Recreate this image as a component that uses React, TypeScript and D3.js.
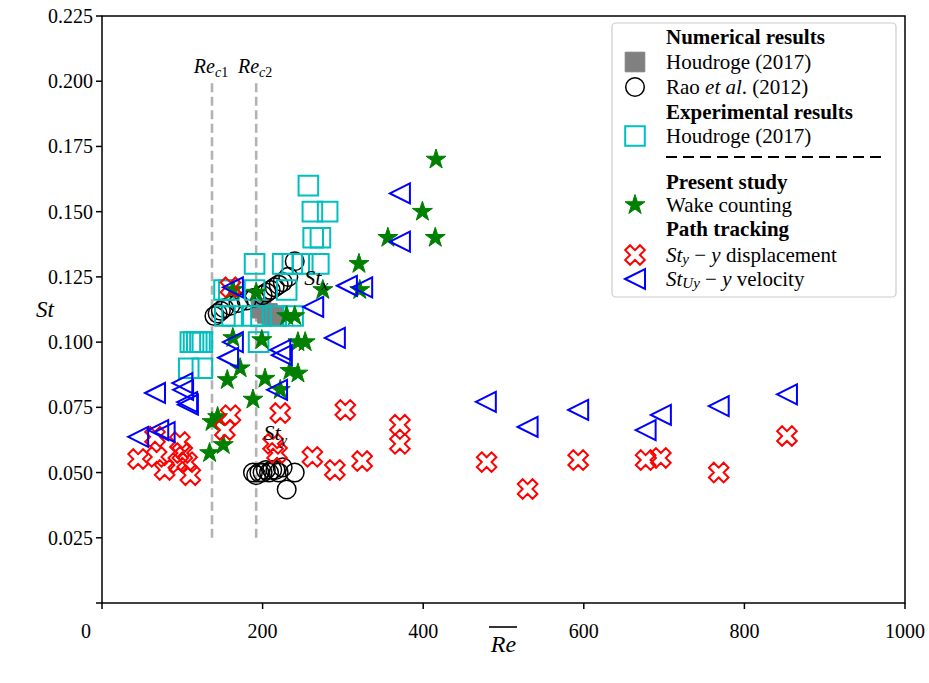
import React from "react";
import * as d3 from "d3";

const W = 929;
const H = 683;
const FONT = '"Liberation Serif", "DejaVu Serif", serif';

// Axis ticks
const xTicks = [0, 200, 400, 600, 800, 1000];
const xTickLabels = ["", "200", "400", "600", "800", "1000"];
const yTicks = [0, 0.025, 0.05, 0.075, 0.1, 0.125, 0.15, 0.175, 0.2, 0.225];
const yTickLabels = ["", "0.025", "0.050", "0.075", "0.100", "0.125", "0.150", "0.175", "0.200", "0.225"];

// Critical Reynolds numbers
const reCritical = [137, 192];
const reCriticalSubs = ["c1", "c2"];
const reCriticalSpan = [0.025, 0.2];

// Numerical results, Houdroge (2017)
const numHoudrogeRe = [198, 206, 214];
const numHoudrogeSt = [0.113, 0.111, 0.11];

// Numerical results, Rao et al. (2012) – upper branch
const raoUpperRe = [140, 144, 148, 152, 160, 170, 180, 190, 200, 205, 210, 215, 220, 225, 232, 240];
const raoUpperSt = [0.11, 0.111, 0.112, 0.113, 0.114, 0.115, 0.116, 0.117, 0.118, 0.119, 0.12, 0.121, 0.122, 0.123, 0.125, 0.131];
// Rao et al. (2012) – lower branch
const raoLowerRe = [188, 192, 196, 200, 204, 208, 212, 216, 220, 225, 230, 240];
const raoLowerSt = [0.05, 0.049, 0.05, 0.05, 0.051, 0.05, 0.051, 0.051, 0.05, 0.052, 0.0435, 0.05];

// Experimental results, Houdroge (2017)
const expHoudrogeRe = [
  257, 262, 281, 263, 272,
  190, 225, 237, 250, 270,
  152, 158, 190, 230,
  153, 162, 188, 198, 217, 238,
  110, 114, 118, 122, 125, 195,
  108, 125,
];
const expHoudrogeSt = [
  0.16, 0.15, 0.15, 0.14, 0.14,
  0.13, 0.13, 0.13, 0.13, 0.13,
  0.12, 0.12, 0.12, 0.12,
  0.11, 0.11, 0.11, 0.11, 0.11, 0.11,
  0.1, 0.1, 0.1, 0.1, 0.1, 0.1,
  0.09, 0.09,
];

// Present study, wake counting
const wakeRe = [416, 399, 415, 356, 320, 321, 275, 230, 240, 192, 163, 163, 199, 244, 253, 172, 156, 203, 234, 244, 188, 222, 144, 137, 151, 134];
const wakeSt = [0.17, 0.15, 0.14, 0.14, 0.13, 0.12, 0.12, 0.11, 0.11, 0.119, 0.12, 0.1016, 0.1008, 0.1, 0.1, 0.09, 0.0855, 0.086, 0.089, 0.088, 0.078, 0.0817, 0.0713, 0.0694, 0.0606, 0.0575];

// Path tracking, y displacement
const dispRe = [45, 66, 68, 78, 97, 100, 95, 110, 106, 153, 160, 160, 222, 213, 218, 262, 290, 303, 324, 371, 371, 479, 530, 593, 677, 696, 768, 853];
const dispSt = [0.0552, 0.0637, 0.056, 0.051, 0.0617, 0.0575, 0.0537, 0.049, 0.054, 0.0663, 0.072, 0.121, 0.0728, 0.061, 0.0575, 0.056, 0.051, 0.074, 0.0544, 0.0683, 0.061, 0.054, 0.0437, 0.0548, 0.0548, 0.0556, 0.05, 0.064];

// Path tracking, y velocity
const velRe = [66, 45, 70, 78, 100, 101, 106, 107, 157, 163, 163, 222, 224, 218, 290, 263, 305, 324, 371, 371, 478, 530, 593, 677, 696, 768, 853];
const velSt = [0.0805, 0.0637, 0.0663, 0.0655, 0.0843, 0.0817, 0.077, 0.076, 0.094, 0.1, 0.121, 0.097, 0.095, 0.0817, 0.1016, 0.1135, 0.1216, 0.121, 0.157, 0.1385, 0.0771, 0.0675, 0.074, 0.0663, 0.0721, 0.0755, 0.08];

// In-plot annotations
const annotations = [
  { label: "x", re: 252, st: 0.122 },
  { label: "y", re: 201, st: 0.0625 },
];

const COLORS = {
  gray: "#808080",
  black: "#000000",
  cyan: "#00bfbf",
  green: "#008000",
  red: "#ff0000",
  blue: "#0000ff",
  crit: "#b3b3b3",
};

const x = d3.scaleLinear().domain([0, 1000]).range([102, 905]);
const y = d3.scaleLinear().domain([0, 0.225]).range([603, 16]);

type Ctx = { moveTo: (a: number, b: number) => void; lineTo: (a: number, b: number) => void; closePath: () => void };

const triangleLeft = {
  draw(ctx: Ctx, r: number) {
    ctx.moveTo(-r, 0);
    ctx.lineTo(r, -r);
    ctx.lineTo(r, r);
    ctx.closePath();
  },
};

const xFilled = {
  draw(ctx: Ctx, r: number) {
    const pts = [[-1, -2], [0, -1], [1, -2], [2, -1], [1, 0], [2, 1], [1, 2], [0, 1], [-1, 2], [-2, 1], [-1, 0], [-2, -1]];
    pts.forEach(([a, b], i) => (i ? ctx.lineTo((a * r) / 2, (b * r) / 2) : ctx.moveTo((a * r) / 2, (b * r) / 2)));
    ctx.closePath();
  },
};

const star5 = {
  draw(ctx: Ctx, r: number) {
    for (let i = 0; i < 10; i++) {
      const rad = i % 2 ? r * 0.381966 : r;
      const a = Math.PI / 2 + (i * Math.PI) / 5;
      const px = rad * Math.cos(a);
      const py = -rad * Math.sin(a);
      if (i === 0) ctx.moveTo(px, py);
      else ctx.lineTo(px, py);
    }
    ctx.closePath();
  },
};

const squareSym = {
  draw(ctx: Ctx, r: number) {
    ctx.moveTo(-r, -r);
    ctx.lineTo(r, -r);
    ctx.lineTo(r, r);
    ctx.lineTo(-r, r);
    ctx.closePath();
  },
};

const sym = (type: any, r: number) => d3.symbol().type(type).size(r)() as string;

const SQ_R = 9.8;
const CIRC_R = 9.3;
const TRI_R = 10;
const X_R = 9.8;
const STAR_R = 10.5;

const pathSquare = sym(squareSym, SQ_R);
const pathTri = sym(triangleLeft, TRI_R);
const pathX = sym(xFilled, X_R);
const pathStar = sym(star5, STAR_R);

function Series({ re, st, render }: { re: number[]; st: number[]; render: (cx: number, cy: number, i: number) => React.ReactNode }) {
  return <g>{re.map((r, i) => render(x(r), y(st[i]), i))}</g>;
}

export default function App() {
  const legendX = 635;
  const legendTextX = 666;
  const rowY = [37, 62, 87, 112, 136, 157, 182, 205, 229, 255, 279];

  return (
    <svg width={W} height={H} style={{ display: "block", position: "absolute", left: 0, top: 0, background: "#fff", fontFamily: FONT }}>
      <style>{`text, tspan { font-family: "Liberation Serif", "DejaVu Serif", serif; }`}</style>
      <rect x={0} y={0} width={W} height={H} fill="#fff" />

      {/* critical Reynolds number markers */}
      {reCritical.map((rc, i) => (
        <g key={`rc${i}`}>
          <line
            x1={x(rc)}
            x2={x(rc)}
            y1={y(reCriticalSpan[0])}
            y2={y(reCriticalSpan[1])}
            stroke={COLORS.crit}
            strokeWidth={2.6}
            strokeDasharray="9,4.5"
          />
          <text x={x(rc) - 1} y={y(reCriticalSpan[1]) - 8} textAnchor="middle" fontSize={20} fill="#000">
            <tspan fontStyle="italic">Re</tspan>
            <tspan fontSize={14} dy={4} fontStyle="italic">{reCriticalSubs[i].charAt(0)}</tspan>
            <tspan fontSize={14}>{reCriticalSubs[i].slice(1)}</tspan>
          </text>
        </g>
      ))}

      {/* Houdroge numerical */}
      <Series re={numHoudrogeRe} st={numHoudrogeSt} render={(cx, cy, i) => (
        <path key={i} d={pathSquare} transform={`translate(${cx},${cy})`} fill={COLORS.gray} stroke={COLORS.gray} strokeWidth={1} />
      )} />

      {/* Rao et al. */}
      <Series re={raoUpperRe} st={raoUpperSt} render={(cx, cy, i) => (
        <circle key={i} cx={cx} cy={cy} r={CIRC_R} fill="none" stroke={COLORS.black} strokeWidth={1.5} />
      )} />
      <Series re={raoLowerRe} st={raoLowerSt} render={(cx, cy, i) => (
        <circle key={i} cx={cx} cy={cy} r={CIRC_R} fill="none" stroke={COLORS.black} strokeWidth={1.5} />
      )} />

      {/* Houdroge experimental */}
      <Series re={expHoudrogeRe} st={expHoudrogeSt} render={(cx, cy, i) => (
        <path key={i} d={pathSquare} transform={`translate(${cx},${cy})`} fill="none" stroke={COLORS.cyan} strokeWidth={2} />
      )} />

      {/* wake counting */}
      <Series re={wakeRe} st={wakeSt} render={(cx, cy, i) => (
        <path key={i} d={pathStar} transform={`translate(${cx},${cy})`} fill={COLORS.green} stroke={COLORS.green} strokeWidth={1} />
      )} />

      {/* y displacement */}
      <Series re={dispRe} st={dispSt} render={(cx, cy, i) => (
        <path key={i} d={pathX} transform={`translate(${cx},${cy})`} fill="none" stroke={COLORS.red} strokeWidth={2} />
      )} />

      {/* y velocity */}
      <Series re={velRe} st={velSt} render={(cx, cy, i) => (
        <path key={i} d={pathTri} transform={`translate(${cx},${cy})`} fill="none" stroke={COLORS.blue} strokeWidth={2} />
      )} />

      {/* annotations */}
      {annotations.map((a) => (
        <text key={a.label} x={x(a.re)} y={y(a.st)} fontSize={22} fontStyle="italic" fill="#000">
          St<tspan fontSize={15} dy={5}>{a.label}</tspan>
        </text>
      ))}

      {/* frame */}
      <rect x={102} y={16} width={803} height={587} fill="none" stroke="#000" strokeWidth={1.5} />

      {/* x axis */}
      {xTicks.map((t, i) => (
        <g key={`xt${i}`}>
          <line x1={x(t)} x2={x(t)} y1={603} y2={609} stroke="#000" strokeWidth={1.5} />
          <text x={x(t)} y={638} textAnchor="middle" fontSize={20}>{xTickLabels[i]}</text>
        </g>
      ))}
      <text x={86} y={638} textAnchor="middle" fontSize={20}>0</text>

      {/* y axis */}
      {yTicks.map((t, i) => (
        <g key={`yt${i}`}>
          <line x1={96} x2={102} y1={y(t)} y2={y(t)} stroke="#000" strokeWidth={1.5} />
          <text x={93} y={y(t)} textAnchor="end" dominantBaseline="central" fontSize={20}>{yTickLabels[i]}</text>
        </g>
      ))}

      {/* axis labels */}
      <text x={45} y={309} textAnchor="middle" dominantBaseline="central" fontSize={23} fontStyle="italic">St</text>
      <text x={503.5} y={652} textAnchor="middle" fontSize={24} fontStyle="italic">Re</text>
      <line x1={489} x2={517} y1={627} y2={627} stroke="#000" strokeWidth={1.6} />

      {/* legend */}
      <g>
        <rect x={612} y={23} width={284} height={274} rx={4} fill="#fff" fillOpacity={0.8} stroke="#cccccc" strokeWidth={1.2} />
        <g fontSize={21} dominantBaseline="central">
          <text x={legendTextX} y={rowY[0]} fontWeight="bold">Numerical results</text>
          <path d={pathSquare} transform={`translate(${legendX},${rowY[1]})`} fill={COLORS.gray} stroke={COLORS.gray} />
          <text x={legendTextX} y={rowY[1]}>Houdroge (2017)</text>
          <circle cx={legendX} cy={rowY[2]} r={CIRC_R} fill="none" stroke="#000" strokeWidth={1.5} />
          <text x={legendTextX} y={rowY[2]}>Rao <tspan fontStyle="italic">et al</tspan>. (2012)</text>
          <text x={legendTextX} y={rowY[3]} fontWeight="bold">Experimental results</text>
          <path d={pathSquare} transform={`translate(${legendX},${rowY[4]})`} fill="none" stroke={COLORS.cyan} strokeWidth={2} />
          <text x={legendTextX} y={rowY[4]}>Houdroge (2017)</text>
          <line x1={666} x2={885} y1={rowY[5]} y2={rowY[5]} stroke="#000" strokeWidth={2.2} strokeDasharray="11,6" />
          <text x={legendTextX} y={rowY[6]} fontWeight="bold">Present study</text>
          <path d={pathStar} transform={`translate(${legendX},${rowY[7]})`} fill={COLORS.green} stroke={COLORS.green} />
          <text x={legendTextX} y={rowY[7]}>Wake counting</text>
          <text x={legendTextX} y={rowY[8]} fontWeight="bold">Path tracking</text>
          <path d={pathX} transform={`translate(${legendX},${rowY[9]})`} fill="none" stroke={COLORS.red} strokeWidth={2} />
          <text x={legendTextX} y={rowY[9]}>
            <tspan fontStyle="italic">St</tspan>
            <tspan fontStyle="italic" fontSize={15} dy={4}>y</tspan>
            <tspan dy={-4}> − </tspan>
            <tspan fontStyle="italic">y</tspan> displacement
          </text>
          <path d={pathTri} transform={`translate(${legendX},${rowY[10]})`} fill="none" stroke={COLORS.blue} strokeWidth={2} />
          <text x={legendTextX} y={rowY[10]}>
            <tspan fontStyle="italic">St</tspan>
            <tspan fontStyle="italic" fontSize={15} dy={4}>Uy</tspan>
            <tspan dy={-4}> − </tspan>
            <tspan fontStyle="italic">y</tspan> velocity
          </text>
        </g>
      </g>
    </svg>
  );
}
